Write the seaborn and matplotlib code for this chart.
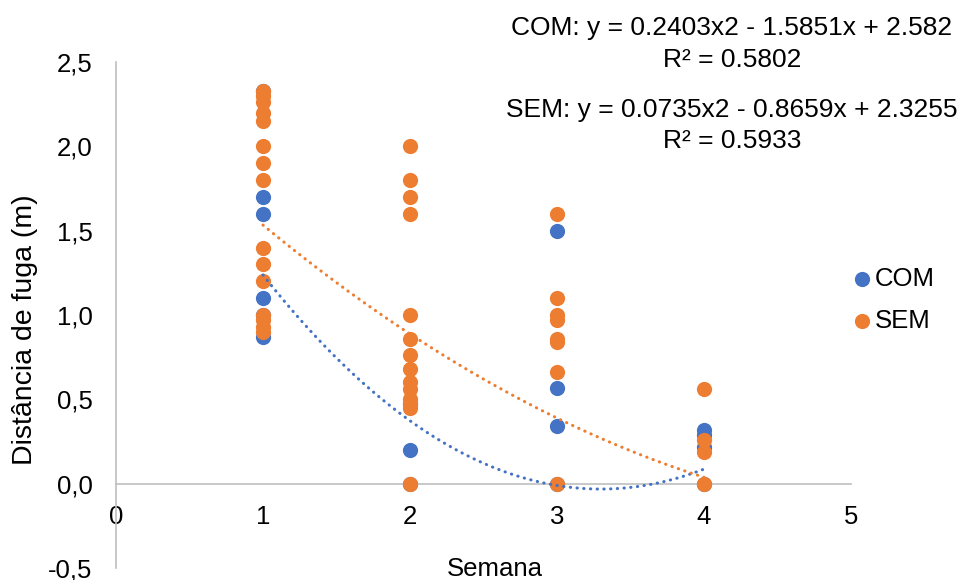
import numpy as np
import pandas as pd
import matplotlib
matplotlib.use("Agg")
import matplotlib.pyplot as plt
import seaborn as sns
from matplotlib.ticker import FuncFormatter

# data
com_semana = [1, 1, 1, 1, 1, 1, 2, 2, 2, 3, 3, 3, 3, 4, 4, 4, 4]
com_dist = [2.33, 1.70, 1.60, 1.10, 1.00, 0.87, 0.47, 0.20, 0.00,
            1.50, 0.57, 0.34, 0.00, 0.32, 0.29, 0.22, 0.00]

sem_semana = [1] * 15 + [2] * 14 + [3] * 8 + [4] * 4
sem_dist = [2.33, 2.30, 2.26, 2.20, 2.15, 2.00, 1.90, 1.80, 1.40, 1.30, 1.20, 1.00, 0.97, 0.93, 0.90,
            2.00, 1.80, 1.70, 1.60, 1.00, 0.86, 0.76, 0.68, 0.60, 0.56, 0.50, 0.47, 0.45, 0.00,
            1.60, 1.10, 1.00, 0.97, 0.86, 0.84, 0.66, 0.00,
            0.56, 0.26, 0.19, 0.00]

# trendline coefficients as printed on the chart
com_coef = [0.2403, -1.5851, 2.582]
sem_coef = [0.0735, -0.8659, 2.3255]
com_r2 = 0.5802
sem_r2 = 0.5933

BLUE = "#4472C4"
ORANGE = "#ED7D31"
FS = 18.5

sns.set_style("white")
plt.rcParams["font.family"] = ["Liberation Sans", "DejaVu Sans"]
plt.rcParams["text.color"] = "black"

com_df = pd.DataFrame({"Semana": com_semana, "Dist": com_dist})
sem_df = pd.DataFrame({"Semana": sem_semana, "Dist": sem_dist})

fig = plt.figure(figsize=(9.58, 5.80), dpi=100)
ax = fig.add_axes([116 / 958, 1 - 568 / 580, (851 - 116) / 958, (568 - 62) / 580])

sns.scatterplot(data=com_df, x="Semana", y="Dist", color=BLUE, s=120,
                linewidth=0, label="COM", ax=ax, zorder=3)
sns.scatterplot(data=sem_df, x="Semana", y="Dist", color=ORANGE, s=120,
                linewidth=0, label="SEM", ax=ax, zorder=3)

xs = np.linspace(1, 4, 100)
for coef, col in [(com_coef, BLUE), (sem_coef, ORANGE)]:
    ax.plot(xs, np.polyval(coef, xs), color=col, lw=2.2,
            linestyle=(0, (0.1, 2.1)), dash_capstyle="round", zorder=4)

ax.set_xlim(0, 5)
ax.set_ylim(-0.5, 2.5)
ax.set_xticks(range(0, 6))
ax.set_yticks(np.arange(-0.5, 2.51, 0.5))
ax.yaxis.set_major_formatter(FuncFormatter(lambda v, p: f"{v:.1f}".replace(".", ",")))

for side in ["top", "right"]:
    ax.spines[side].set_visible(False)
ax.spines["bottom"].set_position(("data", 0))
for side in ["left", "bottom"]:
    ax.spines[side].set_color("#BFBFBF")
    ax.spines[side].set_linewidth(1.2)

ax.tick_params(axis="both", length=0, labelsize=FS, colors="black")
ax.tick_params(axis="y", pad=17)
ax.tick_params(axis="x", pad=15)
ax.set_xlabel("")
ax.set_ylabel("")
fig.text(25 / 958, 1 - 330 / 580, "Distância de fuga (m)", rotation=90,
         ha="center", va="center", fontsize=20.5)
fig.text(495 / 958, 1 - 569 / 580, "Semana", ha="center", va="center", fontsize=FS)

ax.legend(loc="center left", bbox_to_anchor=(849 / 958, 1 - 300 / 580),
          bbox_transform=fig.transFigure, frameon=False, fontsize=FS,
          handlelength=1.0, handletextpad=0.0, labelspacing=0.7,
          borderaxespad=0, borderpad=0)

txt_x = 732 / 958
fig.text(txt_x, 1 - 28 / 580, "COM: y = 0.2403x2 - 1.5851x + 2.582", ha="center", va="center", fontsize=19)
fig.text(txt_x, 1 - 60 / 580, f"R² = {com_r2}", ha="center", va="center", fontsize=19)
fig.text(txt_x, 1 - 110 / 580, "SEM: y = 0.0735x2 - 0.8659x + 2.3255", ha="center", va="center", fontsize=19)
fig.text(txt_x, 1 - 141 / 580, f"R² = {sem_r2}", ha="center", va="center", fontsize=19)

fig.savefig("out.png", dpi=100)
